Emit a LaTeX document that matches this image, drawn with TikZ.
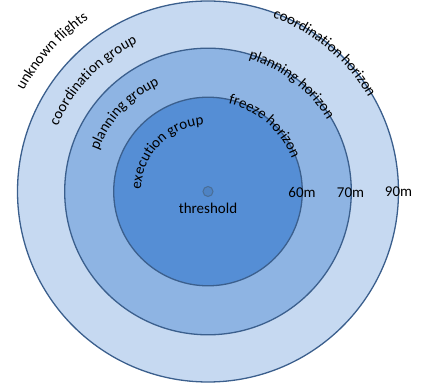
\documentclass[tikz,border=0pt]{standalone}
\usepackage{fontspec}
\setmainfont{Carlito}
\usetikzlibrary{decorations.text}
\definecolor{ringA}{HTML}{C6D9F1}
\definecolor{ringB}{HTML}{8EB4E3}
\definecolor{ringC}{HTML}{558ED5}
\definecolor{ringline}{HTML}{3B5F8D}
\definecolor{dotline}{HTML}{4A6E96}
\newcommand\lblfont{\fontsize{15}{18}\selectfont}
\tikzset{
  ring/.style={draw=ringline, line width=1.3pt},
  lbl/.style={font=\lblfont, text=black, inner sep=0pt},
  curvelbl/.style={decorate, decoration={text along path, text={|\lblfont|#1}, text align=center}}
}
\begin{document}
\begin{tikzpicture}[x=1pt,y=1pt]
\useasboundingbox (-208,-198.5) rectangle (213,191.5);
\coordinate (c) at (0,0);
\fill[ringA] (c) circle (190.5);
\draw[ring] (c) circle (190.5);
\fill[ringB] (c) circle (143.3);
\draw[ring] (c) circle (143.3);
\fill[ringC] (c) circle (94.3);
\draw[ring] (c) circle (94.3);
\draw[draw=dotline, fill=ringC!92!black, line width=1pt] (c) circle (5);
% left labels
\path[curvelbl={unknown flights}] (168:210) arc[start angle=168, end angle=108, radius=210];
\path[curvelbl={coordination group}] (166:164) arc[start angle=166, end angle=106, radius=164];
\path[curvelbl={planning group}] (167:117) arc[start angle=167, end angle=107, radius=117];
\path[curvelbl={execution group}] (186:67) arc[start angle=186, end angle=86, radius=67];
% right labels
\path[curvelbl={coordination horizon}] (80:186) arc[start angle=80, end angle=20, radius=186];
\path[curvelbl={planning horizon}] (82:139) arc[start angle=82, end angle=22, radius=139];
\path[curvelbl={freeze horizon}] (80:90) arc[start angle=80, end angle=18, radius=90];
% straight labels
\node[lbl] (t60) at (94,-0.5) {60m};
\node[lbl] (t70) at (142.5,-1) {70m};
\node[lbl] (t90) at (190.5,-0.5) {90m};
\node[lbl] (thr) at (0,-16.5) {threshold};
\end{tikzpicture}
\end{document}
